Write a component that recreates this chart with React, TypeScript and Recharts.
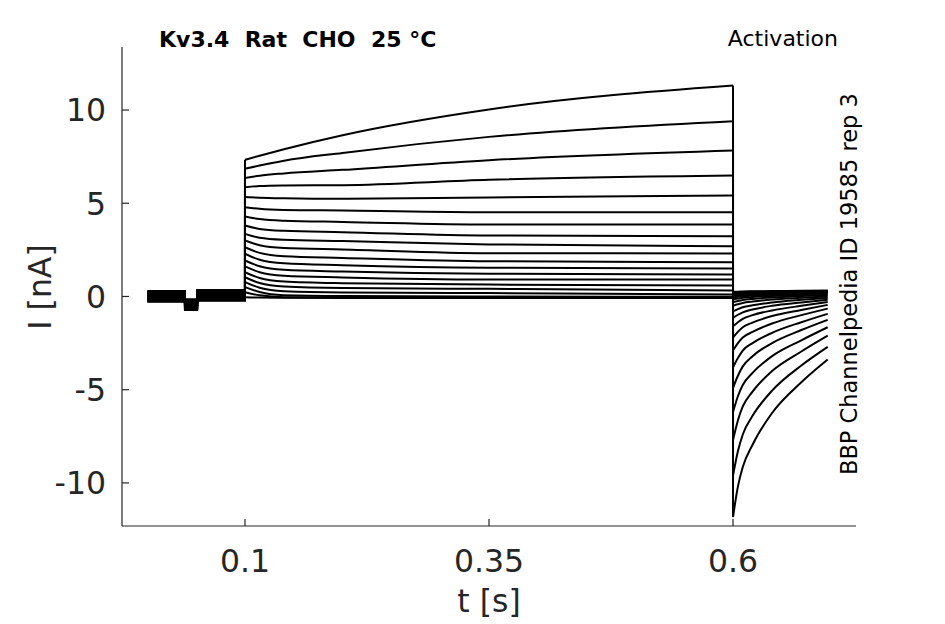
import React from 'react';
import { LineChart, Line, XAxis, YAxis } from 'recharts';

// time axis samples [s]
const leakTimes = [0, 0.0385, 0.0385, 0.051, 0.051, 0.1];
const leakSteps = [0, 0, -0.45, -0.45, 0.05, 0.05];
const leakOffsets = [0.3, -0.25, 0.1, -0.1, 0.22, -0.28, 0.05, 0.18, -0.18, 0.0, 0.26, -0.05, 0.14, -0.22, 0.08, -0.14, 0.2, -0.02, 0.12, -0.08];

const actTimes = [0.1, 0.115, 0.14, 0.2, 0.35, 0.6];
const actAt100 = [7.33, 6.85, 6.36, 5.86, 5.33, 4.79, 4.29, 3.81, 3.36, 3.0, 2.64, 2.29, 1.93, 1.61, 1.3, 1.03, 0.77, 0.5, 0.23, -0.04];
const actAt115 = [7.55, 7.02, 6.48, 5.92, 5.3, 4.7, 4.15, 3.62, 3.15, 2.75, 2.34, 1.97, 1.62, 1.3, 0.99, 0.72, 0.47, 0.24, 0.06, -0.06];
const actAt140 = [7.9, 7.28, 6.6, 5.95, 5.27, 4.64, 4.06, 3.52, 3.04, 2.6, 2.16, 1.78, 1.43, 1.11, 0.8, 0.53, 0.28, 0.07, -0.04, -0.07];
const actAt200 = [8.65, 7.7, 6.79, 5.97, 5.24, 4.61, 4.0, 3.45, 2.97, 2.52, 2.07, 1.68, 1.34, 1.02, 0.71, 0.45, 0.21, 0.02, -0.05, -0.08];
const actAt350 = [10.03, 8.56, 7.31, 6.26, 5.31, 4.52, 3.86, 3.27, 2.79, 2.32, 1.89, 1.54, 1.22, 0.91, 0.64, 0.41, 0.18, 0.0, -0.05, -0.08];
const actAt600 = [11.31, 9.4, 7.83, 6.49, 5.42, 4.52, 3.86, 3.23, 2.7, 2.31, 1.84, 1.5, 1.18, 0.91, 0.59, 0.32, 0.11, -0.02, -0.06, -0.08];
const actColumns = [actAt100, actAt115, actAt140, actAt200, actAt350, actAt600];

const tailTimes = [0.6, 0.605, 0.61, 0.62, 0.64, 0.67, 0.697];
const tailAt600 = [-11.83, -9.6, -7.7, -6.2, -4.9, -3.8, -2.9, -2.2, -1.6, -1.15, -0.8, -0.5, -0.3, -0.15, -0.05, 0.05, 0.12, 0.18, 0.22, 0.26];
const tailAt605 = [-10.2, -8.3, -6.65, -5.35, -4.25, -3.3, -2.5, -1.9, -1.38, -0.98, -0.68, -0.42, -0.24, -0.11, -0.01, 0.07, 0.13, 0.19, 0.23, 0.26];
const tailAt610 = [-9.15, -7.4, -5.9, -4.75, -3.75, -2.9, -2.2, -1.65, -1.2, -0.85, -0.58, -0.35, -0.19, -0.07, 0.02, 0.09, 0.15, 0.2, 0.24, 0.27];
const tailAt620 = [-7.95, -6.4, -5.1, -4.1, -3.2, -2.5, -1.9, -1.4, -1.0, -0.7, -0.47, -0.27, -0.13, -0.03, 0.05, 0.11, 0.17, 0.22, 0.25, 0.28];
const tailAt640 = [-6.25, -5.05, -4.0, -3.2, -2.5, -1.95, -1.45, -1.05, -0.75, -0.5, -0.32, -0.16, -0.05, 0.03, 0.09, 0.14, 0.19, 0.24, 0.27, 0.29];
const tailAt670 = [-4.6, -3.7, -2.95, -2.35, -1.8, -1.38, -1.0, -0.72, -0.5, -0.32, -0.18, -0.07, 0.02, 0.08, 0.13, 0.18, 0.22, 0.26, 0.29, 0.31];
const tailAt700 = [-3.38, -2.7, -2.1, -1.65, -1.25, -0.93, -0.65, -0.45, -0.3, -0.18, -0.08, 0.0, 0.06, 0.12, 0.17, 0.21, 0.25, 0.28, 0.3, 0.32];
const tailColumns = [tailAt600, tailAt605, tailAt610, tailAt620, tailAt640, tailAt670, tailAt700];

const xTicks = [0.1, 0.35, 0.6];
const yTicks = [-10, -5, 0, 5, 10];

const FONT = '"DejaVu Sans", sans-serif';
const AXIS = '#262626';

type Pt = { t: number; i: number };

const traces = leakOffsets.map((off, k) => {
  const leak: Pt[] = leakTimes.map((t, j) => ({ t, i: off + leakSteps[j] }));
  leak.push({ t: 0.1, i: actAt100[k] });
  const act: Pt[] = actTimes.map((t, j) => ({ t, i: actColumns[j][k] }));
  const jump: Pt[] = [
    { t: 0.6, i: actAt600[k] },
    { t: 0.6, i: tailAt600[k] },
  ];
  const tail: Pt[] = tailTimes.map((t, j) => ({ t, i: tailColumns[j][k] }));
  return { leak, act, jump, tail };
});

const XTick = (props: any) => {
  const { x, y, payload } = props;
  const axisY = y - 4;
  return (
    <g>
      <line x1={x} x2={x} y1={axisY} y2={axisY - 7} stroke={AXIS} strokeWidth={1.2} />
      <text x={x} y={572} textAnchor="middle" fontSize={31.5} fill={AXIS} fontFamily={FONT}>
        {String(payload.value)}
      </text>
    </g>
  );
};

const YTick = (props: any) => {
  const { x, y, payload } = props;
  const axisX = x + 4;
  return (
    <g>
      <line x1={axisX} x2={axisX + 7} y1={y} y2={y} stroke={AXIS} strokeWidth={1.2} />
      <text x={106} y={y} dy="0.36em" textAnchor="end" fontSize={31.5} fill={AXIS} fontFamily={FONT}>
        {String(payload.value)}
      </text>
    </g>
  );
};

export default function App() {
  const lw = 2;
  return (
    <div style={{ position: 'absolute', left: 0, top: 0, width: 945, height: 624, background: '#fff' }}>
      <LineChart width={945} height={624} margin={{ top: 47, right: 89, bottom: 0, left: 0 }}>
        <XAxis
          dataKey="t"
          type="number"
          domain={[-0.026, 0.726]}
          allowDataOverflow
          ticks={xTicks}
          height={98}
          tickSize={0}
          tickMargin={4}
          tickLine={false}
          axisLine={{ stroke: AXIS, strokeWidth: 1.2 }}
          tick={<XTick />}
        />
        <YAxis
          dataKey="i"
          type="number"
          domain={[-12.31, 13.38]}
          allowDataOverflow
          ticks={yTicks}
          width={122}
          tickSize={0}
          tickMargin={4}
          tickLine={false}
          axisLine={{ stroke: AXIS, strokeWidth: 1.2 }}
          tick={<YTick />}
        />
        {traces.map((tr, k) => [
          <Line key={`l${k}`} data={tr.leak} dataKey="i" type="linear" stroke="#000" strokeWidth={lw} dot={false} isAnimationActive={false} />,
          <Line key={`a${k}`} data={tr.act} dataKey="i" type="monotone" stroke="#000" strokeWidth={lw} dot={false} isAnimationActive={false} />,
          <Line key={`j${k}`} data={tr.jump} dataKey="i" type="linear" stroke="#000" strokeWidth={lw} dot={false} isAnimationActive={false} />,
          <Line key={`t${k}`} data={tr.tail} dataKey="i" type="monotone" stroke="#000" strokeWidth={lw} dot={false} isAnimationActive={false} />,
        ])}
      </LineChart>
      <svg width={945} height={624} style={{ position: 'absolute', left: 0, top: 0, pointerEvents: 'none' }}>
        <text x={159} y={47} fontSize={22} fontWeight="bold" fontFamily={FONT} fill="#000" style={{ whiteSpace: 'pre' }} xmlSpace="preserve">
          {'Kv3.4  Rat  CHO  25 °C'}
        </text>
        <text x={838} y={46} fontSize={22} textAnchor="end" fontFamily={FONT} fill="#000">
          Activation
        </text>
        <text x={857} y={475} fontSize={22.5} fontFamily={FONT} fill="#000" transform="rotate(-90 857 475)">
          BBP Channelpedia ID 19585 rep 3
        </text>
        <text x={489} y={612} fontSize={31.5} textAnchor="middle" fontFamily={FONT} fill={AXIS}>
          t [s]
        </text>
        <text x={51} y={287} fontSize={31.5} textAnchor="middle" fontFamily={FONT} fill={AXIS} transform="rotate(-90 51 287)">
          I [nA]
        </text>
      </svg>
    </div>
  );
}
